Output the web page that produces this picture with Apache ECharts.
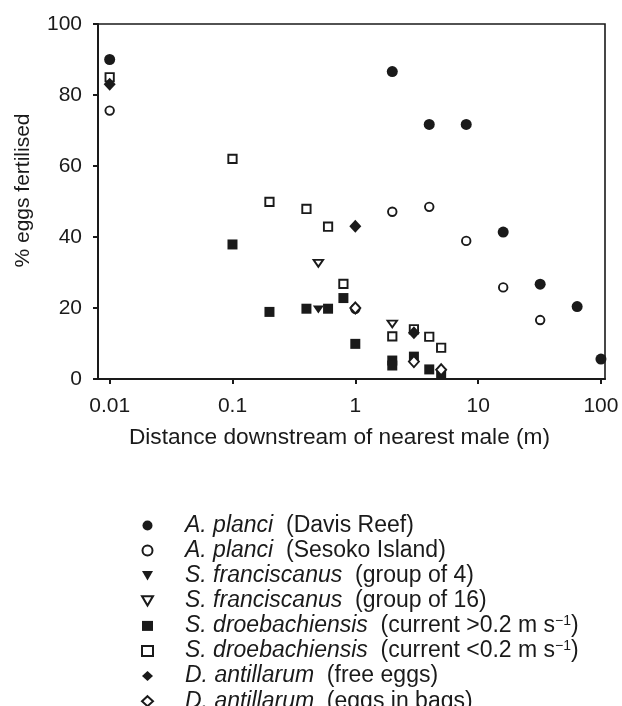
<!DOCTYPE html>
<html>
<head>
<meta charset="utf-8">
<script src="https://cdn.jsdelivr.net/npm/echarts@6/dist/echarts.min.js"></script>
<style>
html,body{margin:0;padding:0;background:#fff;}
#chart{width:622px;height:706px;}
</style>
</head>
<body>
<div id="chart"></div>
<script>
// ---- data (distance in m, % eggs fertilised) ----
const xTickValues = [0.01, 0.1, 1, 10, 100];
const xTickLabels = ['0.01', '0.1', '1', '10', '100'];
const yTickLabels = ['0', '20', '40', '60', '80', '100'];

const speciesNames = ['A. planci', 'A. planci', 'S. franciscanus', 'S. franciscanus',
  'S. droebachiensis', 'S. droebachiensis', 'D. antillarum', 'D. antillarum'];
const qualifiers = ['(Davis Reef)', '(Sesoko Island)', '(group of 4)', '(group of 16)',
  '(current >0.2 m s⁻¹)', '(current <0.2 m s⁻¹)', '(free eggs)', '(eggs in bags)'];

const planciDavis = [[0.01, 90], [2, 86.6], [4, 71.7], [8, 71.7], [16, 41.4], [32, 26.7], [64, 20.4], [100, 5.6]];
const planciSesoko = [[0.01, 75.6], [1, 19.8], [2, 47.1], [4, 48.5], [8, 38.9], [16, 25.8], [32, 16.6]];
const franciscanus4 = [[0.5, 19.6]];
const franciscanus16 = [[0.5, 32.6], [2, 15.5]];
const droebFast = [[0.1, 37.9], [0.2, 18.9], [0.4, 19.8], [0.6, 19.8], [0.8, 22.8], [1, 9.9], [2, 5.2], [2, 3.8], [3, 6.3], [4, 2.7], [5, 1.6]];
const droebSlow = [[0.01, 85], [0.1, 62], [0.2, 49.9], [0.4, 47.9], [0.6, 42.9], [0.8, 26.8], [2, 12], [3, 14], [4, 11.9], [5, 8.8]];
const antillarumFree = [[0.01, 83], [1, 43], [3, 13]];
const antillarumBags = [[1, 20], [3, 4.9], [5, 2.6]];

const allData = [planciDavis, planciSesoko, franciscanus4, franciscanus16, droebFast, droebSlow, antillarumFree, antillarumBags];

// ---- styling ----
const INK = '#1a1a1a';
const FONT = "'Liberation Sans', Arial, Helvetica, sans-serif";
const triDown = 'path://M0,0L20,0L10,17Z';
const styles = [
  { symbol: 'circle', size: 11, open: false },
  { symbol: 'circle', size: 8.5, open: true },
  { symbol: triDown, size: [11, 9.5], open: false },
  { symbol: triDown, size: [9.5, 8], open: true },
  { symbol: 'rect', size: 10, open: false },
  { symbol: 'rect', size: 8.3, open: true },
  { symbol: 'diamond', size: [12, 13], open: false },
  { symbol: 'diamond', size: [10, 11], open: true }
];

const legendNames = speciesNames.map((s, i) => s + ' ' + qualifiers[i]);

const series = allData.map((d, i) => ({
  name: legendNames[i],
  type: 'scatter',
  symbol: styles[i].symbol,
  symbolSize: styles[i].size,
  symbolKeepAspect: true,
  data: d.map(p => [Math.log10(p[0]), p[1]]),
  itemStyle: styles[i].open
    ? { color: '#fff', borderColor: INK, borderWidth: 1.9, opacity: 1 }
    : { color: INK, borderColor: INK, borderWidth: 0, opacity: 1 },
  emphasis: { disabled: true }
}));

function legendFormatter(name) {
  const i = legendNames.indexOf(name);
  const q = qualifiers[i].replace('⁻¹', '}{sup|−1}{n|');
  return '{sp|}{i|' + speciesNames[i] + '}{n|  ' + q + '}';
}

const chart = echarts.init(document.getElementById('chart'), null, { renderer: 'canvas' });
chart.setOption({
  animation: false,
  backgroundColor: '#fff',
  textStyle: { fontFamily: FONT },
  grid: {
    left: 98, right: 17, top: 24, bottom: 327,
    show: true, borderColor: INK, borderWidth: 1.6, backgroundColor: 'transparent'
  },
  xAxis: {
    type: 'value',
    min: -2.095,
    max: 2.033,
    splitLine: { show: false },
    axisLine: { show: true, onZero: false, lineStyle: { color: INK, width: 2 } },
    axisTick: { show: true, length: 5, lineStyle: { color: INK, width: 2 },
      customValues: xTickValues.map(v => Math.log10(v)) },
    axisLabel: {
      customValues: xTickValues.map(v => Math.log10(v)),
      formatter: function (v) {
        const k = xTickValues.findIndex(t => Math.abs(Math.log10(t) - v) < 1e-6);
        return k >= 0 ? xTickLabels[k] : '';
      },
      color: INK, fontSize: 21, fontFamily: FONT, margin: 17
    },
    name: 'Distance downstream of nearest male (m)',
    nameLocation: 'middle',
    nameGap: 47,
    nameTextStyle: { color: INK, fontSize: 22.7, fontFamily: FONT, padding: [0, 24, 0, 0] }
  },
  yAxis: {
    type: 'value',
    min: 0, max: 100, interval: 20,
    splitLine: { show: false },
    axisLine: { show: true, onZero: false, lineStyle: { color: INK, width: 2 } },
    axisTick: { show: true, length: 5, lineStyle: { color: INK, width: 2 } },
    axisLabel: {
      formatter: function (v) { return yTickLabels[Math.round(v / 20)]; },
      color: INK, fontSize: 21, fontFamily: FONT, margin: 16
    },
    name: '% eggs fertilised',
    nameLocation: 'middle',
    nameGap: 64,
    nameTextStyle: { color: INK, fontSize: 21, fontFamily: FONT, padding: [0, 0, 0, 22] }
  },
  legend: {
    orient: 'vertical',
    left: 141,
    top: 514,
    height: 240,
    padding: 0,
    itemWidth: 11,
    itemHeight: 10,
    itemGap: 2.1,
    selectedMode: false,
    data: legendNames,
    formatter: legendFormatter,
    textStyle: {
      color: INK,
      fontFamily: FONT,
      fontSize: 23,
      lineHeight: 23,
      rich: {
        sp: { width: 27, fontSize: 23, lineHeight: 23 },
        i: { fontStyle: 'italic', fontSize: 23, lineHeight: 23, color: INK, fontFamily: FONT },
        n: { fontSize: 23, lineHeight: 23, color: INK, fontFamily: FONT },
        sup: { fontSize: 14, lineHeight: 23, verticalAlign: 'top', color: INK, fontFamily: FONT }
      }
    }
  },
  series: series
});
</script>
</body>
</html>
